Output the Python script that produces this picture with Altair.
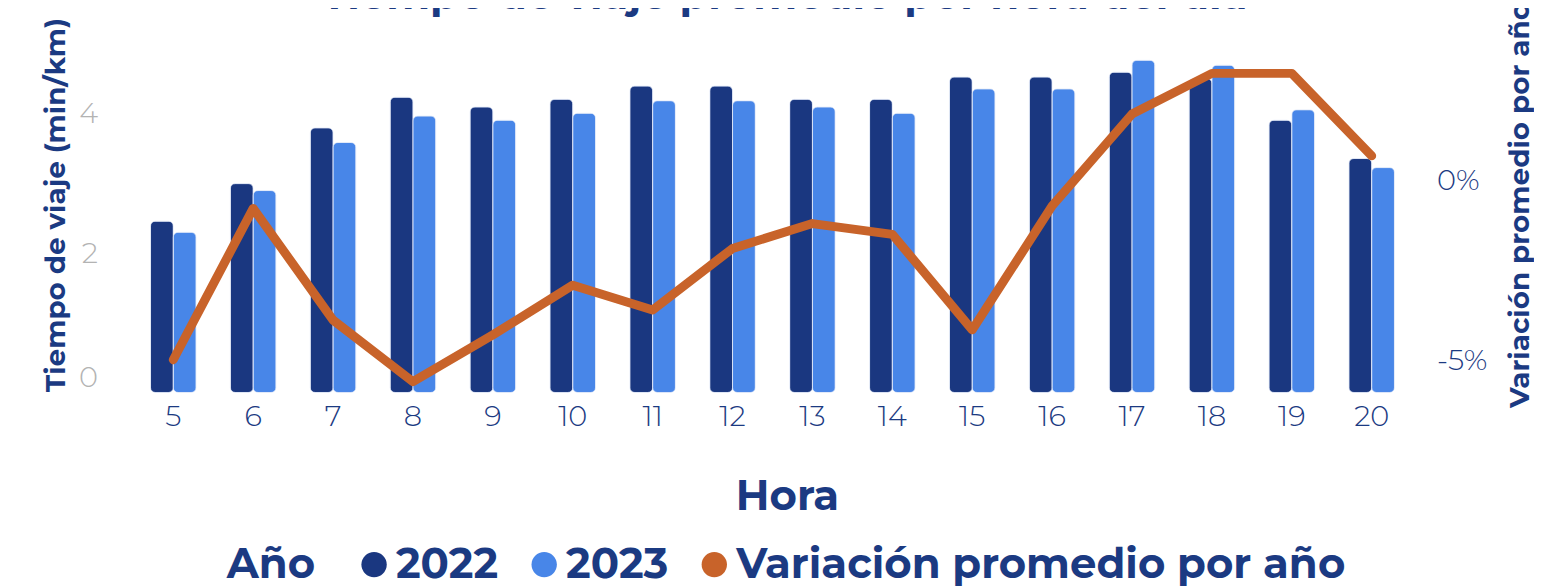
import altair as alt
import pandas as pd

horas = [5, 6, 7, 8, 9, 10, 11, 12, 13, 14, 15, 16, 17, 18, 19, 20]
tiempo_2022 = [2.46, 3.00, 3.80, 4.24, 4.10, 4.21, 4.40, 4.40, 4.21, 4.21, 4.53, 4.53, 4.60, 4.51, 3.91, 3.36]
tiempo_2023 = [2.30, 2.90, 3.59, 3.97, 3.91, 4.01, 4.19, 4.19, 4.10, 4.01, 4.36, 4.36, 4.77, 4.70, 4.06, 3.23]
variacion = [-4.97, -0.77, -3.87, -5.58, -4.28, -2.90, -3.59, -1.88, -1.19, -1.49, -4.14, -0.70, 1.85, 2.98, 2.98, 0.69]

anios = ["2022", "2023"]
serie_linea = "Variación promedio por año"

NAVY = "#1a3780"
LIGHT = "#4886e8"
ORANGE = "#c8632a"
TEXT = "#1b3a82"
FONT = "Montserrat, Open Sans, sans-serif"

rows = []
for i, h in enumerate(horas):
    rows.append({"Hora": h, "Año": "2022", "Tiempo": tiempo_2022[i]})
    rows.append({"Hora": h, "Año": "2023", "Tiempo": tiempo_2023[i]})
bars_df = pd.DataFrame(rows)
line_df = pd.DataFrame({"Hora": horas, "Variacion": variacion})

x_enc = alt.X(
    "Hora:O",
    scale=alt.Scale(paddingInner=0.43, paddingOuter=0.215),
    axis=alt.Axis(
        title="Hora", labelAngle=0, labelFontSize=29, labelFont=FONT, labelFontWeight=300,
        labelColor=TEXT, labelPadding=10, ticks=False, domain=False,
        titleFontSize=42, titleFont=FONT, titleFontWeight="bold", titleColor=TEXT,
        titlePadding=46, titleX=657,
    ),
)

bars = alt.Chart(bars_df).mark_bar(cornerRadius=5, stroke="#dfe8f8", strokeWidth=0.6).encode(
    x=x_enc,
    xOffset=alt.XOffset("Año:N", scale=alt.Scale(paddingInner=0.0)),
    y=alt.Y(
        "Tiempo:Q",
        scale=alt.Scale(domain=[0, 5.4], nice=False),
        axis=alt.Axis(
            title="Tiempo de viaje (min/km)", values=[0, 2, 4], grid=False, ticks=False, domain=False,
            labelFontSize=29, labelFont=FONT, labelFontWeight=300, labelColor="#b3b3b3",
            labelPadding=36, labelFlush=True,
            titleFontSize=28, titleFont=FONT, titleFontWeight="bold", titleColor=TEXT,
            titlePadding=8,
        ),
    ),
    color=alt.Color(
        "Año:N",
        scale=alt.Scale(domain=anios + [serie_linea], range=[NAVY, LIGHT, ORANGE]),
        legend=alt.Legend(
            title="Año", orient="none", direction="horizontal", titleOrient="left",
            legendX=94, legendY=530,
            symbolType="circle", symbolSize=650, symbolStrokeWidth=0,
            labelFontSize=42, labelFont=FONT, labelFontWeight="bold", labelColor=TEXT,
            titleFontSize=42, titleFont=FONT, titleFontWeight="bold", titleColor=TEXT,
            titlePadding=38, columnPadding=25, labelOffset=1, labelLimit=800,
        ),
    ),
)

line = alt.Chart(line_df).mark_line(color=ORANGE, strokeWidth=9, strokeCap="round", strokeJoin="round").encode(
    x=alt.X("Hora:O"),
    y=alt.Y(
        "Variacion:Q",
        scale=alt.Scale(domain=[-5.88, 4.56], nice=False),
        axis=alt.Axis(
            title="Variación promedio por año", orient="right", values=[0, -5], grid=False,
            ticks=False, domain=False, labelExpr="datum.value + '%'",
            labelFontSize=29, labelFont=FONT, labelFontWeight=300, labelColor=TEXT,
            labelPadding=25,
            titleFontSize=28, titleFont=FONT, titleFontWeight="bold", titleColor=TEXT,
            titleAngle=270, titlePadding=48,
        ),
    ),
)

chart = (
    alt.layer(bars, line)
    .resolve_scale(y="independent")
    .properties(
        width=1285,
        height=378,
        title=alt.TitleParams(
            "Tiempo de viaje promedio por hora del día", fontSize=42, font=FONT,
            fontWeight="bold", color=TEXT, anchor="middle", offset=4, dx=12, dy=21,
        ),
        autosize=alt.AutoSizeParams(type="none"),
        padding={"left": 126, "top": 7, "right": 123, "bottom": 193},
    )
    .configure(background="white")
    .configure_view(strokeWidth=0, stroke="transparent")
)

chart.save("out.html", embed_options={"renderer": "svg", "actions": False})
